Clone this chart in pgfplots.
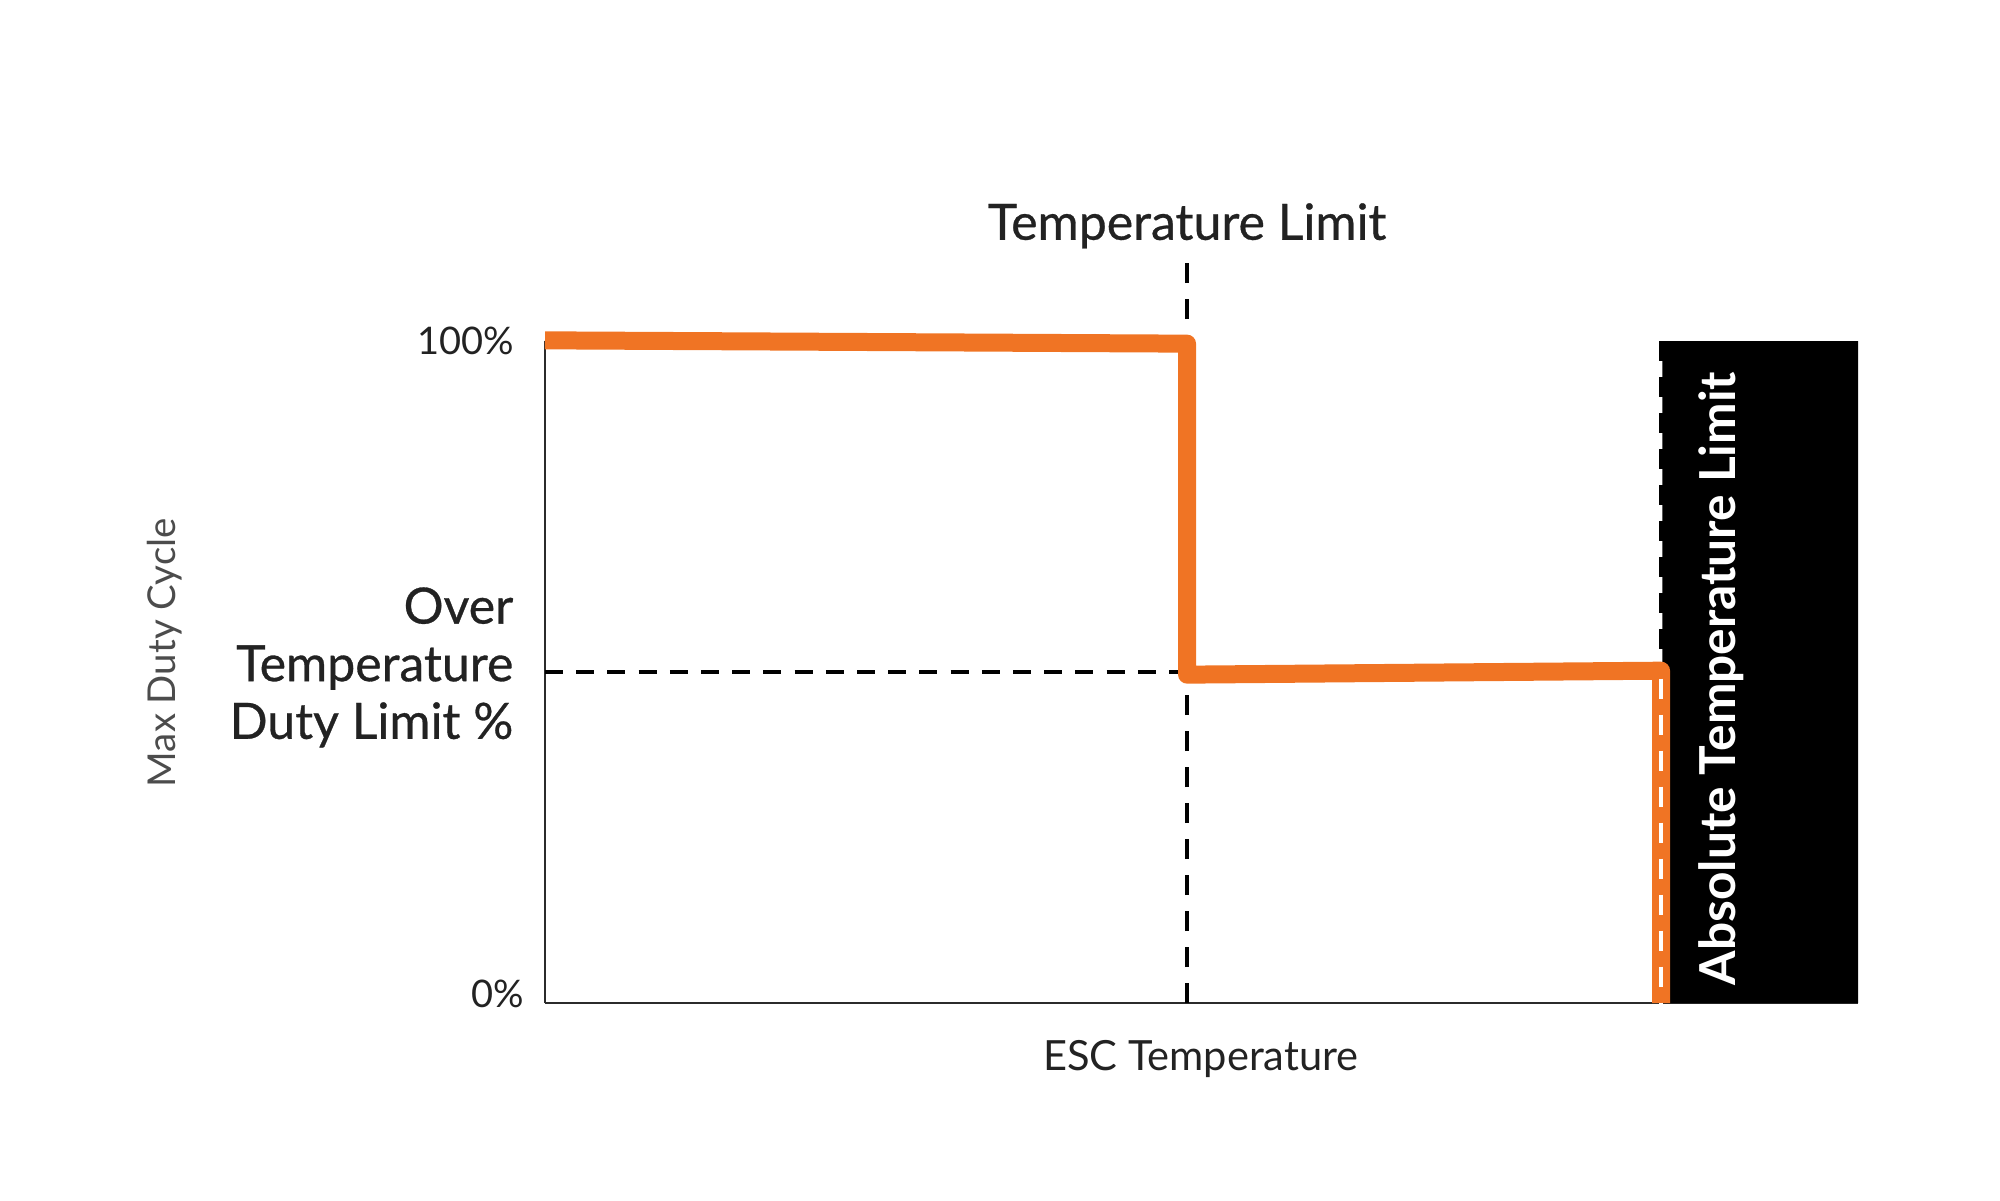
\documentclass[border=0pt]{standalone}
\usepackage{pgfplots}
\pgfplotsset{compat=1.18}
\usepackage{fontspec}
\setmainfont{Lato}
\newfontfamily\medfont{Lato}[FakeBold=0.6]
\definecolor{orng}{HTML}{F07424}
\definecolor{axgray}{HTML}{2B2B2B}
\definecolor{txt}{HTML}{222222}
\begin{document}
\begin{tikzpicture}
\path[use as bounding box] (-136.25pt,-49.25pt) rectangle (363.75pt,250.75pt);
\begin{axis}[
  at={(0,0)}, anchor=south west,
  scale only axis, width=328.25pt, height=165.5pt,
  xmin=0, xmax=100, ymin=0, ymax=100,
  axis x line=bottom, axis y line=left,
  axis line style={axgray, line width=0.6pt, -},
  xtick=\empty, ytick={0,100}, yticklabels={{\raisebox{4.7pt}{0\%}},{100\%\hspace*{2.45pt}}},
  major tick length=0pt,
  yticklabel style={font=\fontsize{9.5}{12}\selectfont, text=txt, xshift=-1.7pt},
  clip=false,
  xlabel={ESC Temperature},
  xlabel style={at={(axis description cs:0.4995,-0.084)}, anchor=center, font=\fontsize{10.4}{12}\selectfont, text=txt},
  ylabel={Max Duty Cycle},
  ylabel style={at={(axis description cs:-0.290,0.529)}, anchor=center, font=\fontsize{9.6}{12}\selectfont, text=black!70},
]
% absolute limit region
\addplot[fill=black, draw=none] coordinates {(85.1,0) (85.1,100) (100,100) (100,0)} \closedcycle;
% reference lines
\addplot[black, line width=0.8pt, dash pattern=on 5pt off 4pt] coordinates {(48.9,0) (48.9,113.4)};
\addplot[black, line width=0.8pt, dash pattern=on 4.5pt off 3.3pt] coordinates {(0,50) (48.9,50)};
\addplot[black, line width=0.8pt, dash pattern=on 5pt off 4pt] coordinates {(85.0,100) (85.0,50)};
% duty limit curve
\addplot[orng, line width=4.5pt, line join=round] coordinates {(0,100.1) (48.9,99.6) (48.9,49.6) (85.0,50.2) (85.0,0)};
\addplot[white, line width=0.8pt, dash pattern=on 5pt off 4pt] coordinates {(85.0,49) (85.0,0)};
% annotations
\node[font=\medfont\fontsize{12.5}{15}\selectfont, text=txt] at (axis cs:48.9,117.4) {Temperature Limit};
\node[font=\medfont\fontsize{12.5}{14.4}\selectfont, text=txt, anchor=east, align=right, xshift=-4.4pt] at (axis cs:0,50.7) {Over\\Temperature\\Duty Limit \%};
\node[font=\bfseries\fontsize{12.4}{14}\selectfont, text=white, rotate=90] at (axis cs:89.6,49.0) {Absolute Temperature Limit};
\end{axis}
\end{tikzpicture}
\end{document}
